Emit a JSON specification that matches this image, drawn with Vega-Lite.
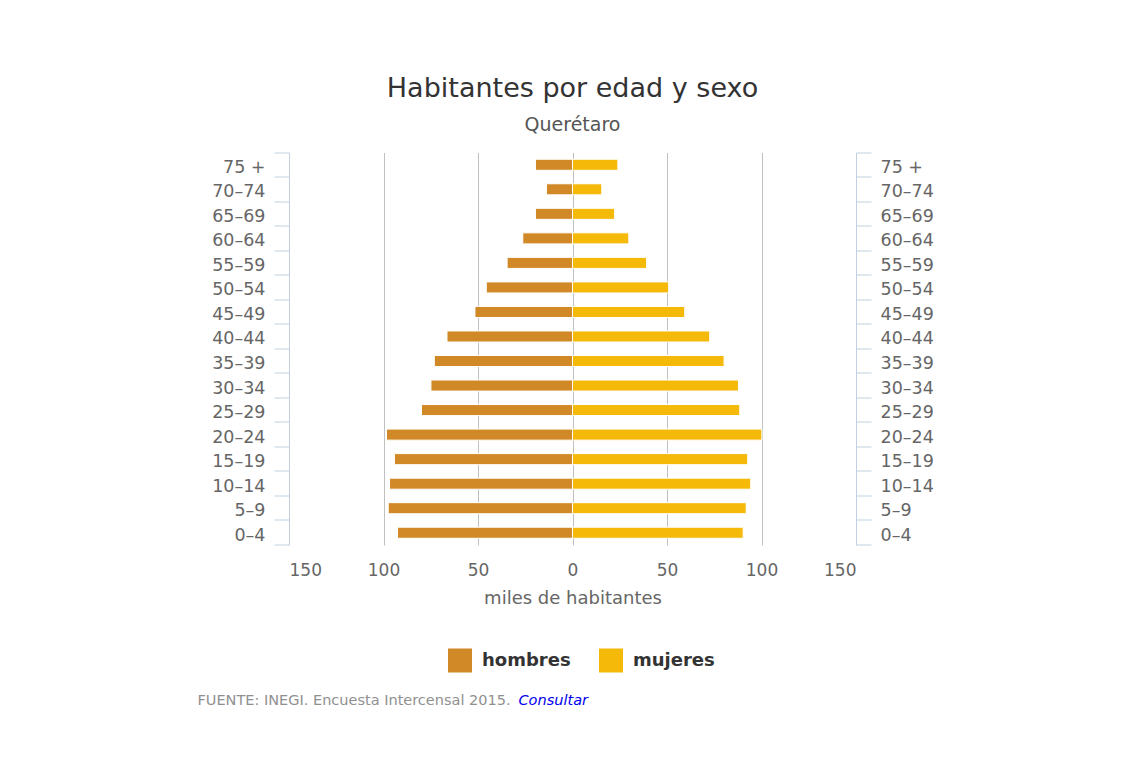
{
  "$schema": "https://vega.github.io/schema/vega-lite/v6.json",
  "autosize": "none",
  "width": 567,
  "height": 392.5,
  "padding": {"left": 289, "top": 152.5, "right": 276, "bottom": 235},
  "background": "white",
  "config": {"view": {"stroke": null}, "font": "DejaVu Sans"},
  "title": {
    "text": "Habitantes por edad y sexo",
    "subtitle": "Querétaro",
    "anchor": "middle",
    "frame": "group",
    "font": "DejaVu Sans",
    "fontSize": 27,
    "fontWeight": "normal",
    "color": "#333333",
    "subtitleFont": "DejaVu Sans",
    "subtitleFontSize": 19,
    "subtitleColor": "#555555",
    "subtitlePadding": 13,
    "offset": 8
  },
  "data": {
    "values": [
      {"edad": "75 +", "sexo": "hombres", "miles": -19.6},
      {"edad": "70–74", "sexo": "hombres", "miles": -13.8},
      {"edad": "65–69", "sexo": "hombres", "miles": -19.6},
      {"edad": "60–64", "sexo": "hombres", "miles": -26.3},
      {"edad": "55–59", "sexo": "hombres", "miles": -34.6},
      {"edad": "50–54", "sexo": "hombres", "miles": -45.6},
      {"edad": "45–49", "sexo": "hombres", "miles": -51.6},
      {"edad": "40–44", "sexo": "hombres", "miles": -66.4},
      {"edad": "35–39", "sexo": "hombres", "miles": -73.1},
      {"edad": "30–34", "sexo": "hombres", "miles": -74.9},
      {"edad": "25–29", "sexo": "hombres", "miles": -79.9},
      {"edad": "20–24", "sexo": "hombres", "miles": -98.4},
      {"edad": "15–19", "sexo": "hombres", "miles": -94.2},
      {"edad": "10–14", "sexo": "hombres", "miles": -96.8},
      {"edad": "5–9", "sexo": "hombres", "miles": -97.5},
      {"edad": "0–4", "sexo": "hombres", "miles": -92.6},
      {"edad": "75 +", "sexo": "mujeres", "miles": 24.0},
      {"edad": "70–74", "sexo": "mujeres", "miles": 15.5},
      {"edad": "65–69", "sexo": "mujeres", "miles": 22.3},
      {"edad": "60–64", "sexo": "mujeres", "miles": 29.8},
      {"edad": "55–59", "sexo": "mujeres", "miles": 39.2},
      {"edad": "50–54", "sexo": "mujeres", "miles": 50.9},
      {"edad": "45–49", "sexo": "mujeres", "miles": 59.4},
      {"edad": "40–44", "sexo": "mujeres", "miles": 72.6},
      {"edad": "35–39", "sexo": "mujeres", "miles": 80.2},
      {"edad": "30–34", "sexo": "mujeres", "miles": 87.8},
      {"edad": "25–29", "sexo": "mujeres", "miles": 88.5},
      {"edad": "20–24", "sexo": "mujeres", "miles": 100.2},
      {"edad": "15–19", "sexo": "mujeres", "miles": 92.7},
      {"edad": "10–14", "sexo": "mujeres", "miles": 94.3},
      {"edad": "5–9", "sexo": "mujeres", "miles": 91.9},
      {"edad": "0–4", "sexo": "mujeres", "miles": 90.3}
    ]
  },
  "layer": [
    {
      "mark": {"type": "bar", "height": {"band": 0.45}, "stroke": "white", "strokeWidth": 1},
      "encoding": {
        "x": {
          "field": "miles", "type": "quantitative", "stack": null,
          "scale": {"domain": [-150, 150], "nice": false},
          "axis": {
            "values": [-150, -100, -50, 0, 50, 100, 150],
            "labelExpr": "format(abs(datum.value), 'd')",
            "domain": false, "ticks": false,
            "grid": true, "gridColor": "#C0C0C0",
            "gridOpacity": {"condition": {"test": "abs(datum.value) == 150", "value": 0}, "value": 1},
            "labelFont": "DejaVu Sans", "labelFontSize": 17, "labelColor": "#666666", "labelPadding": 17,
            "title": "miles de habitantes", "titleFont": "DejaVu Sans", "titleFontSize": 18,
            "titleFontWeight": "normal", "titleColor": "#666666", "titlePadding": 11
          }
        },
        "y": {
          "field": "edad", "type": "nominal",
          "sort": ["75 +", "70–74", "65–69", "60–64", "55–59", "50–54", "45–49", "40–44", "35–39", "30–34", "25–29", "20–24", "15–19", "10–14", "5–9", "0–4"],
          "scale": {"paddingInner": 0, "paddingOuter": 0},
          "axis": {
            "orient": "left", "title": null, "bandPosition": 1, "tickExtra": true, "labelOffset": 3,
            "domainColor": "#C0D0E0", "tickColor": "#C0D0E0", "tickSize": 15, "labelPadding": 9,
            "labelFont": "DejaVu Sans", "labelFontSize": 17.5, "labelColor": "#666666", "grid": false
          }
        },
        "color": {
          "field": "sexo", "type": "nominal",
          "scale": {"domain": ["hombres", "mujeres"], "range": ["#D18826", "#F5B90A"]},
          "legend": {
            "title": null, "orient": "none", "legendX": 159, "legendY": 496, "direction": "horizontal",
            "symbolType": "square", "symbolSize": 576, "symbolStrokeWidth": 0, "symbolOpacity": 1,
            "labelFont": "DejaVu Sans", "labelFontSize": 18, "labelFontWeight": "bold", "labelColor": "#333333",
            "labelOffset": 10, "columnPadding": 28, "padding": 0
          }
        }
      }
    },
    {
      "mark": {"type": "bar", "height": {"band": 0.45}, "opacity": 0},
      "encoding": {
        "x": {
          "field": "miles", "type": "quantitative", "stack": null,
          "axis": {
            "grid": false, "labels": false, "ticks": false, "domain": false,
            "title": "FUENTE: INEGI. Encuesta Intercensal 2015.",
            "titleX": -92, "titleY": 552, "titleAlign": "left", "titleBaseline": "alphabetic",
            "titleFont": "DejaVu Sans", "titleFontSize": 14.5, "titleFontWeight": "normal", "titleColor": "#909090"
          }
        },
        "y": {
          "field": "edad", "type": "nominal",
          "sort": ["75 +", "70–74", "65–69", "60–64", "55–59", "50–54", "45–49", "40–44", "35–39", "30–34", "25–29", "20–24", "15–19", "10–14", "5–9", "0–4"],
          "axis": {
            "orient": "right", "title": null, "bandPosition": 1, "tickExtra": true, "labelOffset": 3,
            "domainColor": "#C0D0E0", "tickColor": "#C0D0E0", "tickSize": 15, "labelPadding": 9,
            "labelFont": "DejaVu Sans", "labelFontSize": 17.5, "labelColor": "#666666", "grid": false
          }
        }
      }
    },
    {
      "mark": {"type": "bar", "height": {"band": 0.45}, "opacity": 0},
      "encoding": {
        "x": {
          "field": "miles", "type": "quantitative", "stack": null,
          "axis": {
            "grid": false, "labels": false, "ticks": false, "domain": false,
            "title": "Consultar",
            "titleX": 229, "titleY": 552, "titleAlign": "left", "titleBaseline": "alphabetic",
            "titleFont": "DejaVu Sans", "titleFontSize": 14.5, "titleFontWeight": "normal",
            "titleFontStyle": "italic", "titleColor": "#0000EE"
          }
        },
        "y": {
          "field": "edad", "type": "nominal",
          "sort": ["75 +", "70–74", "65–69", "60–64", "55–59", "50–54", "45–49", "40–44", "35–39", "30–34", "25–29", "20–24", "15–19", "10–14", "5–9", "0–4"],
          "axis": null
        }
      }
    }
  ],
  "resolve": {"axis": {"x": "independent", "y": "independent"}}
}
